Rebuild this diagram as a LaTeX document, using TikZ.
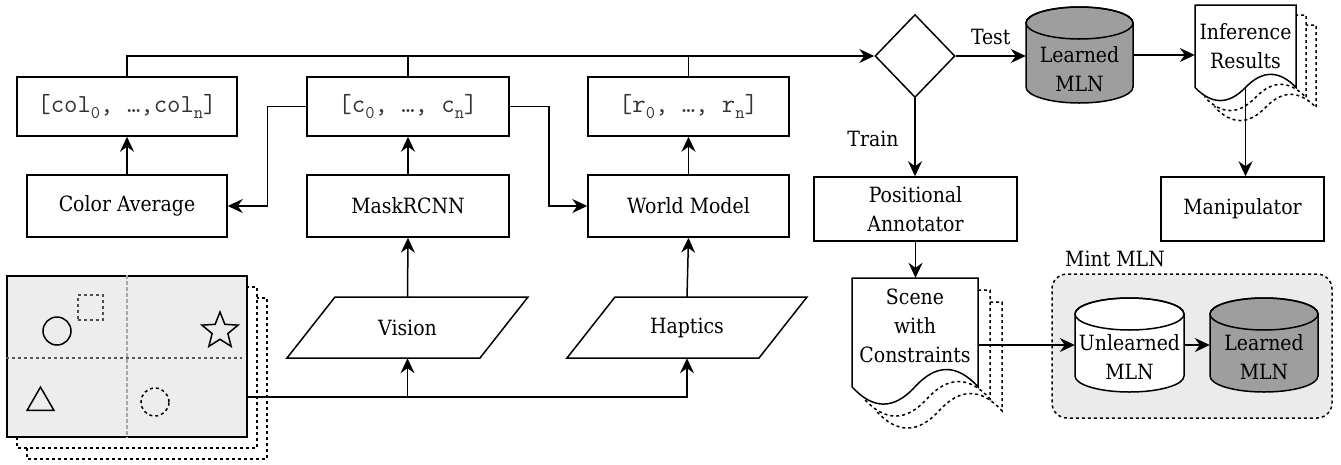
\documentclass[tikz,border=0pt]{standalone}
\usepackage{fontspec}
\setmainfont{DejaVu Serif Condensed}
\usetikzlibrary{shapes.geometric,arrows.meta,calc}
\newcommand\sbs[1]{\raisebox{-6pt}{\fontsize{18}{18}\selectfont #1}}
% cylinder: cx cy w h fill
\newcommand\cylshape[5]{%
  \filldraw[ln,fill=#5] ({#1-#3/2},{#2-#4/2+16}) -- ({#1-#3/2},{#2+#4/2-16})
    arc[start angle=180,end angle=0,x radius={#3/2},y radius=16]
    -- ({#1+#3/2},{#2-#4/2+16})
    arc[start angle=0,end angle=-180,x radius={#3/2},y radius=16] -- cycle;
  \draw[ln] (#1,{#2-#4/2+16}) ellipse[x radius={#3/2},y radius=16];}
% document: L T w h style
\newcommand\docshape[5]{%
  \filldraw[#5] (#1,#2) -- ({#1+#3},#2) -- ({#1+#3},{#2+0.85*#4})
    .. controls ({#1+0.8333*#3},{#2+0.67*#4}) and ({#1+0.6667*#3},{#2+0.67*#4}) .. ({#1+0.5*#3},{#2+0.85*#4})
    .. controls ({#1+0.3333*#3},{#2+1.03*#4}) and ({#1+0.1667*#3},{#2+1.03*#4}) .. (#1,{#2+0.85*#4}) -- cycle;}
\begin{document}
\begin{tikzpicture}[x=1pt,y=-1pt,
  ln/.style={line width=1.5pt},
  arr/.style={ln,-{Stealth[length=15pt,width=14pt,inset=5pt]}},
  box/.style={draw,ln,fill=white,inner sep=0pt,align=center,font=\fontsize{21}{29}\selectfont},
  vec/.style={box,font=\ttfamily\fontsize{26}{28}\selectfont,text=black!80},
  txt/.style={inner sep=0pt,align=center,font=\fontsize{21}{29}\selectfont},
  hid/.style={inner sep=0pt},
  copy/.style={ln,dashed,fill=white},
  doc/.style={ln,fill=white}]
\useasboundingbox (0,0) rectangle (1341,464);

% ---- vector boxes
\node[vec,minimum width=220pt,minimum height=59pt] (colv) at (127,106.5) {[col\sbs{0}, …,col\sbs{n}]};
\node[vec,minimum width=202pt,minimum height=59pt] (cv) at (408,106.5) {[c\sbs{0}, …, c\sbs{n}]};
\node[vec,minimum width=201pt,minimum height=59pt] (rv) at (688.5,106.5) {[r\sbs{0}, …, r\sbs{n}]};

% ---- processing boxes
\node[box,minimum width=200pt,minimum height=62pt] (colavg) at (127,206) {Color Average};
\node[box,minimum width=202pt,minimum height=62pt] (mask) at (408,206) {MaskRCNN};
\node[box,minimum width=201pt,minimum height=62pt] (world) at (688.5,206) {World Model};

% ---- inputs (parallelograms)
\filldraw[ln,fill=white] (335,297) -- (528,297) -- (480,358) -- (287,358) -- cycle;
\node[txt,minimum width=193pt,minimum height=61pt] (vision) at (407.5,327.5) {Vision};
\filldraw[ln,fill=white] (615,297) -- (807,297) -- (759,358) -- (567,358) -- cycle;
\node[txt,minimum width=192pt,minimum height=61pt] (haptics) at (687,327.5) {Haptics};

% ---- scene image
\draw[copy] (27,298) rectangle ++(240,161);
\draw[copy] (17,287) rectangle ++(240,161);
\node[draw,ln,fill=black!7,minimum width=240pt,minimum height=161pt,inner sep=0pt] (img) at (127,356.5) {};
\draw[black!35,line width=2pt,dash pattern=on 4pt off 2pt] (img.north) -- (img.south);
\draw[black!65,line width=1.5pt,dashed] (img.west |- 0,358) -- (242,358);
\node[draw,ln,circle,minimum size=28pt,inner sep=0pt] (circ) at (57,331) {};
\node[draw=black!70,ln,dashed,minimum size=25pt,inner sep=0pt] (sq) at (90.5,307.5) {};
\node[draw,ln,star,star points=5,star point ratio=2.3,minimum size=38pt,inner sep=0pt] (star) at (220,331) {};
\node[draw,ln,regular polygon,regular polygon sides=3,minimum size=31pt,inner sep=0pt] (tri) at (40.5,402.6) {};
\node[draw,ln,dashed,circle,minimum size=28pt,inner sep=0pt] (dcirc) at (155,402) {};

% ---- decision
\node[draw,ln,diamond,minimum width=80pt,minimum height=83pt,inner sep=0pt,fill=white] (dia) at (915,56) {};

% ---- learned MLN (top)
\cylshape{1079.5}{55}{107}{96}{black!38}
\node[hid,minimum width=107pt,minimum height=96pt] (lrn1) at (1079.5,55) {};
\node[txt] (lrn1t) at (1079.5,69) {Learned\\MLN};

% ---- inference results document
\docshape{1215}{25}{101}{97}{copy}
\docshape{1205}{15}{101}{97}{copy}
\docshape{1195}{5}{101}{97}{doc}
\node[txt,minimum width=101pt,minimum height=82pt] (inf) at (1245.5,46) {Inference\\Results};

% ---- right boxes
\node[box,minimum width=203pt,minimum height=64pt] (posann) at (915.5,209) {Positional\\Annotator};
\node[box,minimum width=163pt,minimum height=64pt] (manip) at (1242.5,209) {Manipulator};

% ---- scene with constraints document
\docshape{876}{302}{126}{128}{copy}
\docshape{864}{290}{126}{128}{copy}
\docshape{852}{278}{126}{128}{doc}
\node[txt,minimum width=126pt,minimum height=96pt] (scene) at (915,326) {Scene\\with\\Constraints};

% ---- Mint MLN group
\node[draw,ln,dashed,rounded corners=15pt,fill=black!8,minimum width=280pt,minimum height=144pt] (mint) at (1192,346) {};
\node[txt] (mintl) at (1115,259) {Mint MLN};
\cylshape{1129.5}{345}{109}{94}{white}
\node[hid,minimum width=109pt,minimum height=94pt] (unl) at (1129.5,345) {};
\node[txt] (unlt) at (1129.5,357) {Unlearned\\MLN};
\cylshape{1264}{345}{108}{94}{black!38}
\node[hid,minimum width=108pt,minimum height=94pt] (lrn2) at (1264,345) {};
\node[txt] (lrn2t) at (1264,357) {Learned\\MLN};

% ---- connectors
\draw[arr] (colv.north) |- (dia.west);
\draw[ln] (cv.north) -- (cv.north |- dia.west);
\draw[ln] (rv.north) -- (rv.north |- dia.west);
\draw[arr] (colavg) -- (colv);
\draw[arr] (mask) -- (cv);
\draw[arr] (world) -- (rv);
\draw[arr] (cv.west) -- ++(-39,0) |- (colavg.east);
\draw[arr] (cv.east) -- ++(39,0) |- (world.west);
\draw[arr] (vision.north) -- (mask.south);
\draw[arr] (haptics.north) -- (world.south);
\coordinate (jh) at (687,397);
\draw[arr] (img.east |- jh) -| (haptics.south);
\draw[arr] (vision.south |- jh) -- (vision.south);
\draw[arr] (dia.east) -- (dia.east -| lrn1.west) node[midway,above=10pt,txt] (test) {Test};
\draw[arr] (lrn1.east) -- (lrn1.east -| inf.west);
\draw[arr] (inf.south) -- (inf.south |- manip.north);
\draw[arr] (dia.south) -- (dia.south |- posann.north);
\node[txt] (train) at (873,139) {Train};
\draw[arr] (posann.south) -- (posann.south |- scene.north);
\draw[arr] (scene.east |- unl.west) -- (unl.west);
\draw[arr] (unl.east) -- (lrn2.west);
\end{tikzpicture}
\end{document}
